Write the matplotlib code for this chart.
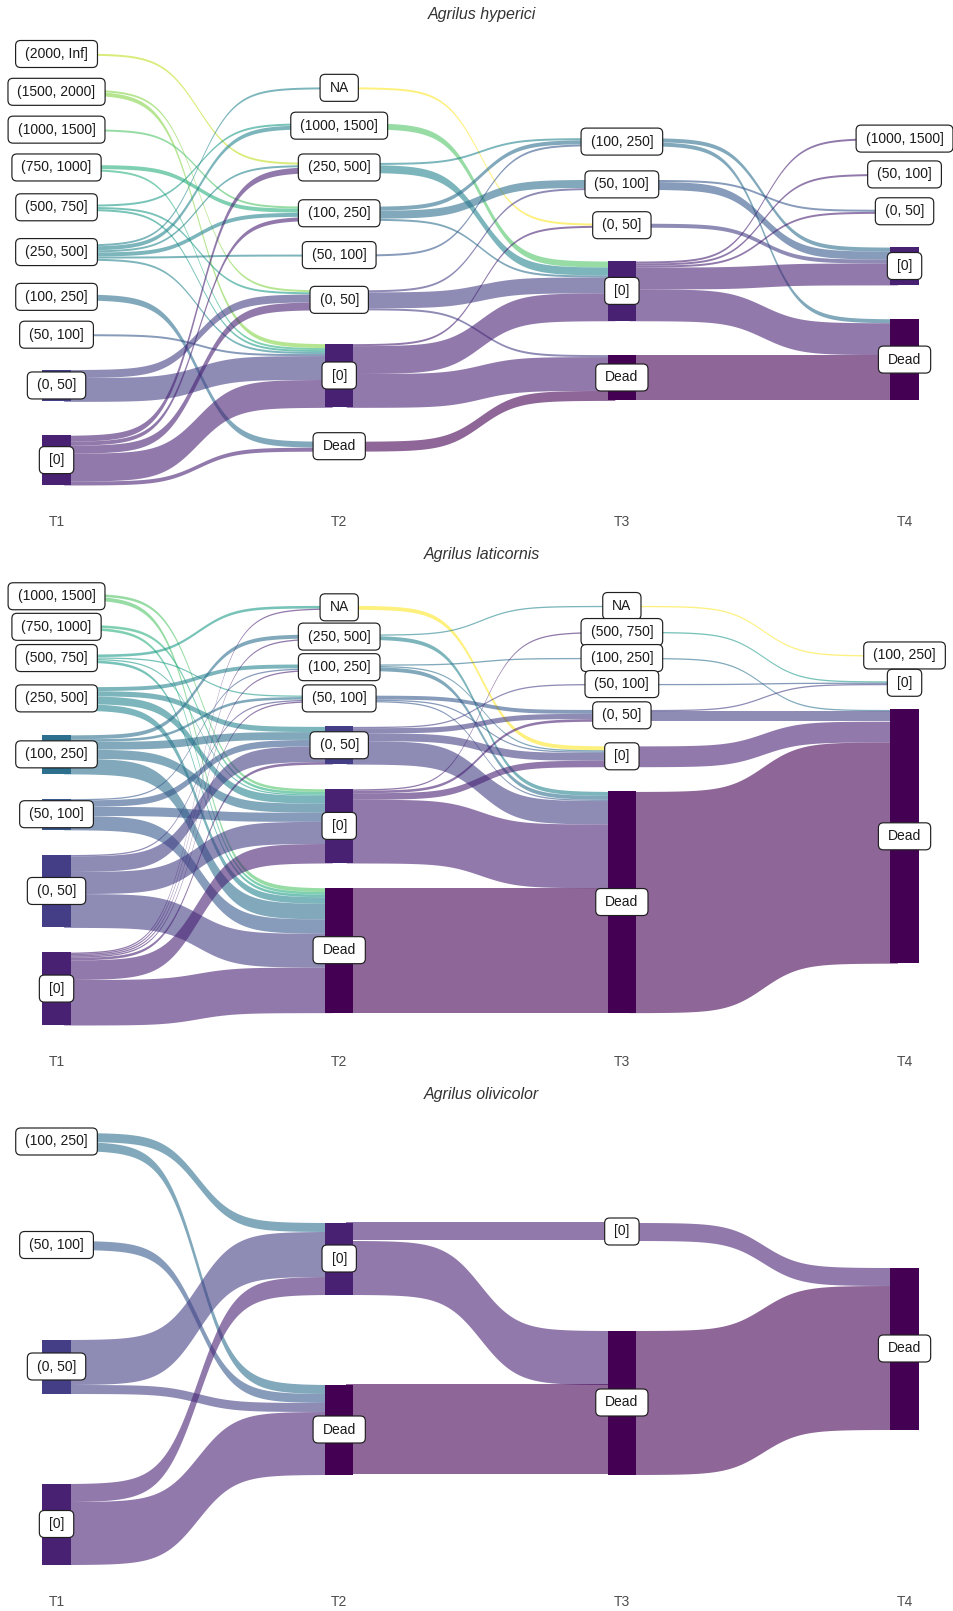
import numpy as np
import matplotlib.pyplot as plt
from matplotlib.patches import Rectangle, FancyBboxPatch
from matplotlib.transforms import IdentityTransform

plt.rcParams['font.family'] = ['Liberation Sans', 'DejaVu Sans']

# category order, top of a column to bottom (viridis runs the other way)
levels = ['NA', '(2000, Inf]', '(1500, 2000]', '(1000, 1500]', '(750, 1000]',
          '(500, 750]', '(250, 500]', '(100, 250]', '(50, 100]', '(0, 50]',
          '[0]', 'Dead']
axis_labels = ['T1', 'T2', 'T3', 'T4']
species = ['Agrilus hyperici', 'Agrilus laticornis', 'Agrilus olivicolor']

# (from, to, number of individuals)
hyperici_t1_t2 = [
    ('(2000, Inf]', '(250, 500]', 1),
    ('(1500, 2000]', '(0, 50]', 1), ('(1500, 2000]', '[0]', 2),
    ('(1000, 1500]', '(100, 250]', 1),
    ('(750, 1000]', '(100, 250]', 2), ('(750, 1000]', '[0]', 1),
    ('(500, 750]', '(1000, 1500]', 1), ('(500, 750]', '(0, 50]', 1), ('(500, 750]', '[0]', 1),
    ('(250, 500]', 'NA', 1), ('(250, 500]', '(1000, 1500]', 2), ('(250, 500]', '(250, 500]', 1),
    ('(250, 500]', '(100, 250]', 2), ('(250, 500]', '(50, 100]', 1), ('(250, 500]', '[0]', 1),
    ('(100, 250]', 'Dead', 3),
    ('(50, 100]', '[0]', 1),
    ('(0, 50]', '(0, 50]', 4), ('(0, 50]', '[0]', 12),
    ('[0]', '(250, 500]', 3), ('[0]', '(100, 250]', 2), ('[0]', '(0, 50]', 4),
    ('[0]', '[0]', 14), ('[0]', 'Dead', 2),
]
hyperici_t2_t3 = [
    ('NA', '(0, 50]', 1),
    ('(1000, 1500]', '[0]', 3),
    ('(250, 500]', '(100, 250]', 1), ('(250, 500]', '[0]', 4),
    ('(100, 250]', '(100, 250]', 2), ('(100, 250]', '(50, 100]', 4), ('(100, 250]', '[0]', 1),
    ('(50, 100]', '(100, 250]', 1),
    ('(0, 50]', '(50, 100]', 1), ('(0, 50]', '[0]', 8), ('(0, 50]', 'Dead', 1),
    ('[0]', '(0, 50]', 1), ('[0]', '[0]', 14), ('[0]', 'Dead', 17),
    ('Dead', 'Dead', 5),
]
hyperici_t3_t4 = [
    ('(100, 250]', '[0]', 2), ('(100, 250]', 'Dead', 2),
    ('(50, 100]', '(0, 50]', 1), ('(50, 100]', '[0]', 4),
    ('(0, 50]', '[0]', 2),
    ('[0]', '(1000, 1500]', 1), ('[0]', '(50, 100]', 1), ('[0]', '(0, 50]', 1),
    ('[0]', '[0]', 11), ('[0]', 'Dead', 16),
    ('Dead', 'Dead', 23),
]

laticornis_t1_t2 = [
    ('(1000, 1500]', '[0]', 2), ('(1000, 1500]', 'Dead', 3),
    ('(750, 1000]', '[0]', 2), ('(750, 1000]', 'Dead', 2),
    ('(500, 750]', 'NA', 2), ('(500, 750]', '(50, 100]', 1), ('(500, 750]', '[0]', 1),
    ('(500, 750]', 'Dead', 2),
    ('(250, 500]', '(100, 250]', 3), ('(250, 500]', '(0, 50]', 4), ('(250, 500]', '[0]', 6),
    ('(250, 500]', 'Dead', 5),
    ('(100, 250]', '(250, 500]', 3), ('(100, 250]', '(50, 100]', 2), ('(100, 250]', '(0, 50]', 6),
    ('(100, 250]', '[0]', 7), ('(100, 250]', 'Dead', 12),
    ('(50, 100]', '(100, 250]', 1), ('(50, 100]', '(0, 50]', 5), ('(50, 100]', '[0]', 7),
    ('(50, 100]', 'Dead', 11),
    ('(0, 50]', '(50, 100]', 1), ('(0, 50]', '(0, 50]', 12), ('(0, 50]', '[0]', 17),
    ('(0, 50]', 'Dead', 26),
    ('[0]', 'NA', 1), ('[0]', '(250, 500]', 1), ('[0]', '(100, 250]', 1), ('[0]', '(50, 100]', 1),
    ('[0]', '(0, 50]', 2), ('[0]', '[0]', 15), ('[0]', 'Dead', 35),
]
laticornis_t2_t3 = [
    ('NA', '[0]', 3),
    ('(250, 500]', 'NA', 1), ('(250, 500]', 'Dead', 3),
    ('(100, 250]', '(100, 250]', 1), ('(100, 250]', '[0]', 1), ('(100, 250]', 'Dead', 3),
    ('(50, 100]', '(0, 50]', 3), ('(50, 100]', '[0]', 1), ('(50, 100]', 'Dead', 1),
    ('(0, 50]', '(50, 100]', 1), ('(0, 50]', '(0, 50]', 4), ('(0, 50]', '[0]', 6),
    ('(0, 50]', 'Dead', 18),
    ('[0]', '(500, 750]', 1), ('[0]', '(0, 50]', 2), ('[0]', '[0]', 5), ('[0]', 'Dead', 49),
    ('Dead', 'Dead', 96),
]
laticornis_t3_t4 = [
    ('NA', '(100, 250]', 1),
    ('(500, 750]', '[0]', 1),
    ('(100, 250]', 'Dead', 1),
    ('(50, 100]', '[0]', 1),
    ('(0, 50]', '[0]', 1), ('(0, 50]', 'Dead', 8),
    ('[0]', 'Dead', 16),
    ('Dead', 'Dead', 170),
]

olivicolor_t1_t2 = [
    ('(100, 250]', '[0]', 2), ('(100, 250]', 'Dead', 2),
    ('(50, 100]', 'Dead', 2),
    ('(0, 50]', '[0]', 10), ('(0, 50]', 'Dead', 2),
    ('[0]', '[0]', 4), ('[0]', 'Dead', 14),
]
olivicolor_t2_t3 = [
    ('[0]', '[0]', 4), ('[0]', 'Dead', 12),
    ('Dead', 'Dead', 20),
]
olivicolor_t3_t4 = [
    ('[0]', 'Dead', 4),
    ('Dead', 'Dead', 32),
]

panels = [
    [hyperici_t1_t2, hyperici_t2_t3, hyperici_t3_t4],
    [laticornis_t1_t2, laticornis_t2_t3, laticornis_t3_t4],
    [olivicolor_t1_t2, olivicolor_t2_t3, olivicolor_t3_t4],
]
gaps = [17, 19, 20]            # space between nodes, in individuals
centers_px = [269, 809, 1348.5]  # vertical centre of each panel

NODE_W = 0.1
SMOOTH = 7
cmap = plt.get_cmap('viridis')


def level_color(name):
    return cmap((len(levels) - 1 - levels.index(name)) / (len(levels) - 1))


def column_sizes(transitions):
    cols = [{}]
    for src, tgt, n in transitions[0]:
        cols[0][src] = cols[0].get(src, 0) + n
    for tr in transitions:
        col = {}
        for src, tgt, n in tr:
            col[tgt] = col.get(tgt, 0) + n
        cols.append(col)
    return cols


def stack(col, gap):
    names = sorted(col, key=levels.index)
    total = sum(col.values()) + gap * (len(names) - 1)
    pos = {}
    top = total / 2
    for name in names:
        pos[name] = (top, top - col[name])
        top = top - col[name] - gap
    return pos, total


def draw_flow(ax, x0, x1, a0, b0, a1, b1, color):
    t = np.linspace(-SMOOTH, SMOOTH, 150)
    s = 1 / (1 + np.exp(-t))
    s = (s - s[0]) / (s[-1] - s[0])
    xs = x0 + (t + SMOOTH) / (2 * SMOOTH) * (x1 - x0)
    # run a little under the nodes so no white seam shows at their edges
    xs = np.concatenate([[x0 - NODE_W / 4], xs, [x1 + NODE_W / 4]])
    s = np.concatenate([[0], s, [1]])
    ax.fill_between(xs, b0 + s * (b1 - b0), a0 + s * (a1 - a0),
                    color=color, alpha=0.6, lw=0, zorder=1)


fig = plt.figure(figsize=(9.54, 16.11), dpi=100)
node_labels = []

for p, transitions in enumerate(panels):
    cols = column_sizes(transitions)
    stacked = [stack(c, gaps[p]) for c in cols]
    ppu = 432 / max(s[1] for s in stacked)
    c = centers_px[p]
    ax = fig.add_axes([0, 1 - (c + 240) / 1611, 1, 480 / 1611])
    ax.set_xlim(0.8, 4.175)
    ax.set_ylim(-240 / ppu, 240 / ppu)
    ax.axis('off')

    # flows
    for k, tr in enumerate(transitions):
        pos_a, pos_b = stacked[k][0], stacked[k + 1][0]
        out_top = {n: pos_a[n][0] for n in pos_a}
        in_top = {n: pos_b[n][0] for n in pos_b}
        starts, ends = {}, {}
        for i, (src, tgt, n) in sorted(enumerate(tr), key=lambda e: (levels.index(e[1][0]), levels.index(e[1][1]))):
            starts[i] = out_top[src]
            out_top[src] -= n
        for i, (src, tgt, n) in sorted(enumerate(tr), key=lambda e: (levels.index(e[1][1]), levels.index(e[1][0]))):
            ends[i] = in_top[tgt]
            in_top[tgt] -= n
        for i, (src, tgt, n) in enumerate(tr):
            draw_flow(ax, k + 1 + NODE_W / 2, k + 2 - NODE_W / 2,
                      starts[i], starts[i] - n, ends[i], ends[i] - n, level_color(src))

    # nodes and labels
    for k, (pos, total) in enumerate(stacked):
        for name, (top, bot) in pos.items():
            ax.add_patch(Rectangle((k + 1 - NODE_W / 2, bot), NODE_W, top - bot,
                                   facecolor=level_color(name), lw=0, zorder=2))
            t = ax.text(k + 1, (top + bot) / 2, name, ha='center', va='center',
                        fontsize=10, color='#1a1a1a', zorder=4)
            node_labels.append((ax, t))

    for k, lab in enumerate(axis_labels):
        ax.text(k + 1, 0.5 - 253 / 480, lab, transform=ax.get_xaxis_transform(),
                ha='center', va='center', fontsize=10, color='#4d4d4d')
    ax.text(0.505, 0.5 + 254 / 480, species[p], transform=ax.transAxes, ha='center',
            va='center', fontsize=11.5, style='italic', color='#333333')

# white label boxes, wider than tall like ggplot's geom_label
fig.canvas.draw()
renderer = fig.canvas.get_renderer()
for ax, t in node_labels:
    bb = t.get_window_extent(renderer)
    xc = (bb.x0 + bb.x1) / 2
    yc = ax.transData.transform(t.get_position())[1]
    w = bb.width + 19
    h = 27
    box = FancyBboxPatch((xc - w / 2, yc - h / 2), w, h,
                         boxstyle='round,pad=0,rounding_size=5',
                         transform=IdentityTransform(), facecolor='white',
                         edgecolor='#1f1f1f', lw=0.85, zorder=3, clip_on=False)
    ax.add_patch(box)

fig.savefig('out.png', dpi=100)
